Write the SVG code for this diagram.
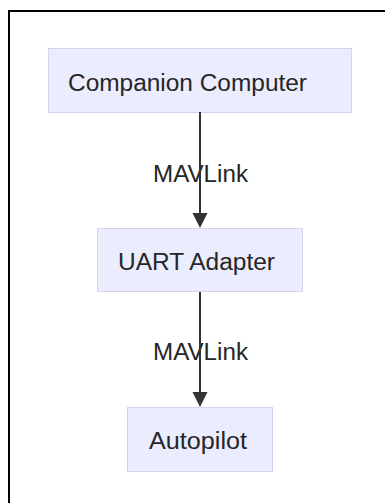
<svg xmlns="http://www.w3.org/2000/svg" width="385" height="503" viewBox="0 0 385 503">
<defs>
<style>
.node rect{fill:#ECECFF;stroke:#D2D2F2;stroke-width:1}
.node text,.lbl{font-family:"Liberation Sans",Arial,sans-serif;font-size:23px;fill:#262626;text-anchor:start;dominant-baseline:central}
.edge{stroke:#333;stroke-width:2;fill:none}
</style>
</defs>
<rect x="0" y="0" width="385" height="503" fill="#fff"/>
<rect x="9" y="11" width="420" height="540" fill="none" stroke="#000" stroke-width="2"/>
<g id="n1" class="node"><rect x="48.5" y="48.5" width="303" height="64"/><text x="68" y="82.5" textLength="239" lengthAdjust="spacingAndGlyphs">Companion Computer</text></g>
<g id="n2" class="node"><rect x="97.5" y="228.5" width="205" height="63"/><text x="118" y="261.5" textLength="157" lengthAdjust="spacingAndGlyphs">UART Adapter</text></g>
<g id="n3" class="node"><rect x="127.5" y="407.5" width="145" height="64"/><text x="149" y="441" textLength="98" lengthAdjust="spacingAndGlyphs">Autopilot</text></g>
<g id="labels">
<text class="lbl" x="153" y="173.5" textLength="95" lengthAdjust="spacingAndGlyphs">MAVLink</text>
<text class="lbl" x="153" y="351.5" textLength="95" lengthAdjust="spacingAndGlyphs">MAVLink</text>
</g>
<g id="edges">
<path class="edge" d="M200,112 V213"/>
<path d="M192.5,213 L207.5,213 L200,228 Z" fill="#333"/>
<path class="edge" d="M200,292 V392"/>
<path d="M192.5,392 L207.5,392 L200,407 Z" fill="#333"/>
</g>
</svg>
